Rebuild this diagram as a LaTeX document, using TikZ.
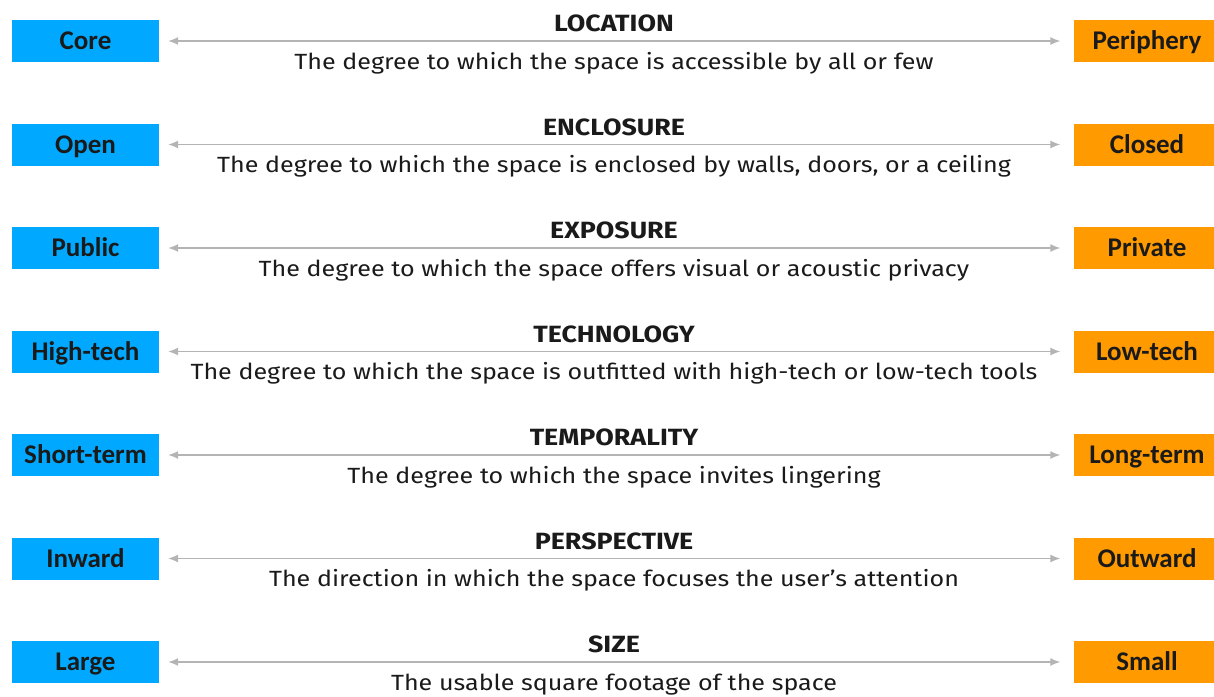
\documentclass[tikz,border=0pt]{standalone}
\usepackage{fontspec}
\setmainfont[FakeStretch=1.14]{Fira Sans}
\newfontfamily\boxfont{Carlito}
\usepackage{tikz}
\usetikzlibrary{arrows.meta}
\definecolor{poleblue}{HTML}{00A9FF}
\definecolor{poleorange}{HTML}{FF9A00}
\definecolor{axisgray}{HTML}{B4B4B4}
\definecolor{inkdark}{HTML}{1A1A1A}
\tikzset{
	pole/.style={minimum width=147pt,minimum height=42pt,inner sep=0pt,text height=17.5pt,text depth=0pt,text=inkdark,font=\boxfont\bfseries\fontsize{27}{30}\selectfont},
	lowpole/.style={pole,fill=poleblue},
	highpole/.style={pole,fill=poleorange},
	dimname/.style={anchor=base,text=inkdark,font=\bfseries\fontsize{23.5}{26}\selectfont},
	dimtext/.style={anchor=base,text=inkdark,font=\fontsize{22}{25}\selectfont},
	axis/.style={draw=axisgray,line width=1.4pt,>={Latex[length=10pt,width=8pt]},shorten <=9pt,shorten >=13pt}
}
\begin{document}
\begin{tikzpicture}[x=1pt,y=-1pt]
	\useasboundingbox (0,0) rectangle (1214,696);
		% location
		\node[lowpole] (core) at (85.5,41) {Core};
		\node[highpole] (periphery) at (1147,41) {Periphery};
		\node[dimname] (location) at (614,31.5) {LOCATION};
		\node[dimtext] (locationtext) at (614,69) {The degree to which the space is accessible by all or few};
		\draw[axis,<->] (core) -- (periphery);
		% enclosure
		\node[lowpole] (open) at (85.5,144.5) {Open};
		\node[highpole] (closed) at (1147,144.5) {Closed};
		\node[dimname] (enclosure) at (614,135) {ENCLOSURE};
		\node[dimtext] (enclosuretext) at (614,172.5) {The degree to which the space is enclosed by walls, doors, or a ceiling};
		\draw[axis,<->] (open) -- (closed);
		% exposure
		\node[lowpole] (public) at (85.5,248) {Public};
		\node[highpole] (private) at (1147,248) {Private};
		\node[dimname] (exposure) at (614,238.5) {EXPOSURE};
		\node[dimtext] (exposuretext) at (614,276) {The degree to which the space offers visual or acoustic privacy};
		\draw[axis,<->] (public) -- (private);
		% technology
		\node[lowpole] (hightech) at (85.5,351.5) {High-tech};
		\node[highpole] (lowtech) at (1147,351.5) {Low-tech};
		\node[dimname] (technology) at (614,342) {TECHNOLOGY};
		\node[dimtext] (technologytext) at (614,379.5) {The degree to which the space is outfitted with high-tech or low-tech tools};
		\draw[axis,<->] (hightech) -- (lowtech);
		% temporality
		\node[lowpole] (shortterm) at (85.5,455) {Short-term};
		\node[highpole] (longterm) at (1147,455) {Long-term};
		\node[dimname] (temporality) at (614,445.5) {TEMPORALITY};
		\node[dimtext] (temporalitytext) at (614,483) {The degree to which the space invites lingering};
		\draw[axis,<->] (shortterm) -- (longterm);
		% perspective
		\node[lowpole] (inward) at (85.5,558.5) {Inward};
		\node[highpole] (outward) at (1147,558.5) {Outward};
		\node[dimname] (perspective) at (614,549) {PERSPECTIVE};
		\node[dimtext] (perspectivetext) at (614,586.5) {The direction in which the space focuses the user’s attention};
		\draw[axis,<->] (inward) -- (outward);
		% size
		\node[lowpole] (large) at (85.5,662) {Large};
		\node[highpole] (small) at (1147,662) {Small};
		\node[dimname] (size) at (614,652.5) {SIZE};
		\node[dimtext] (sizetext) at (614,690) {The usable square footage of the space};
		\draw[axis,<->] (large) -- (small);
\end{tikzpicture}
\end{document}
